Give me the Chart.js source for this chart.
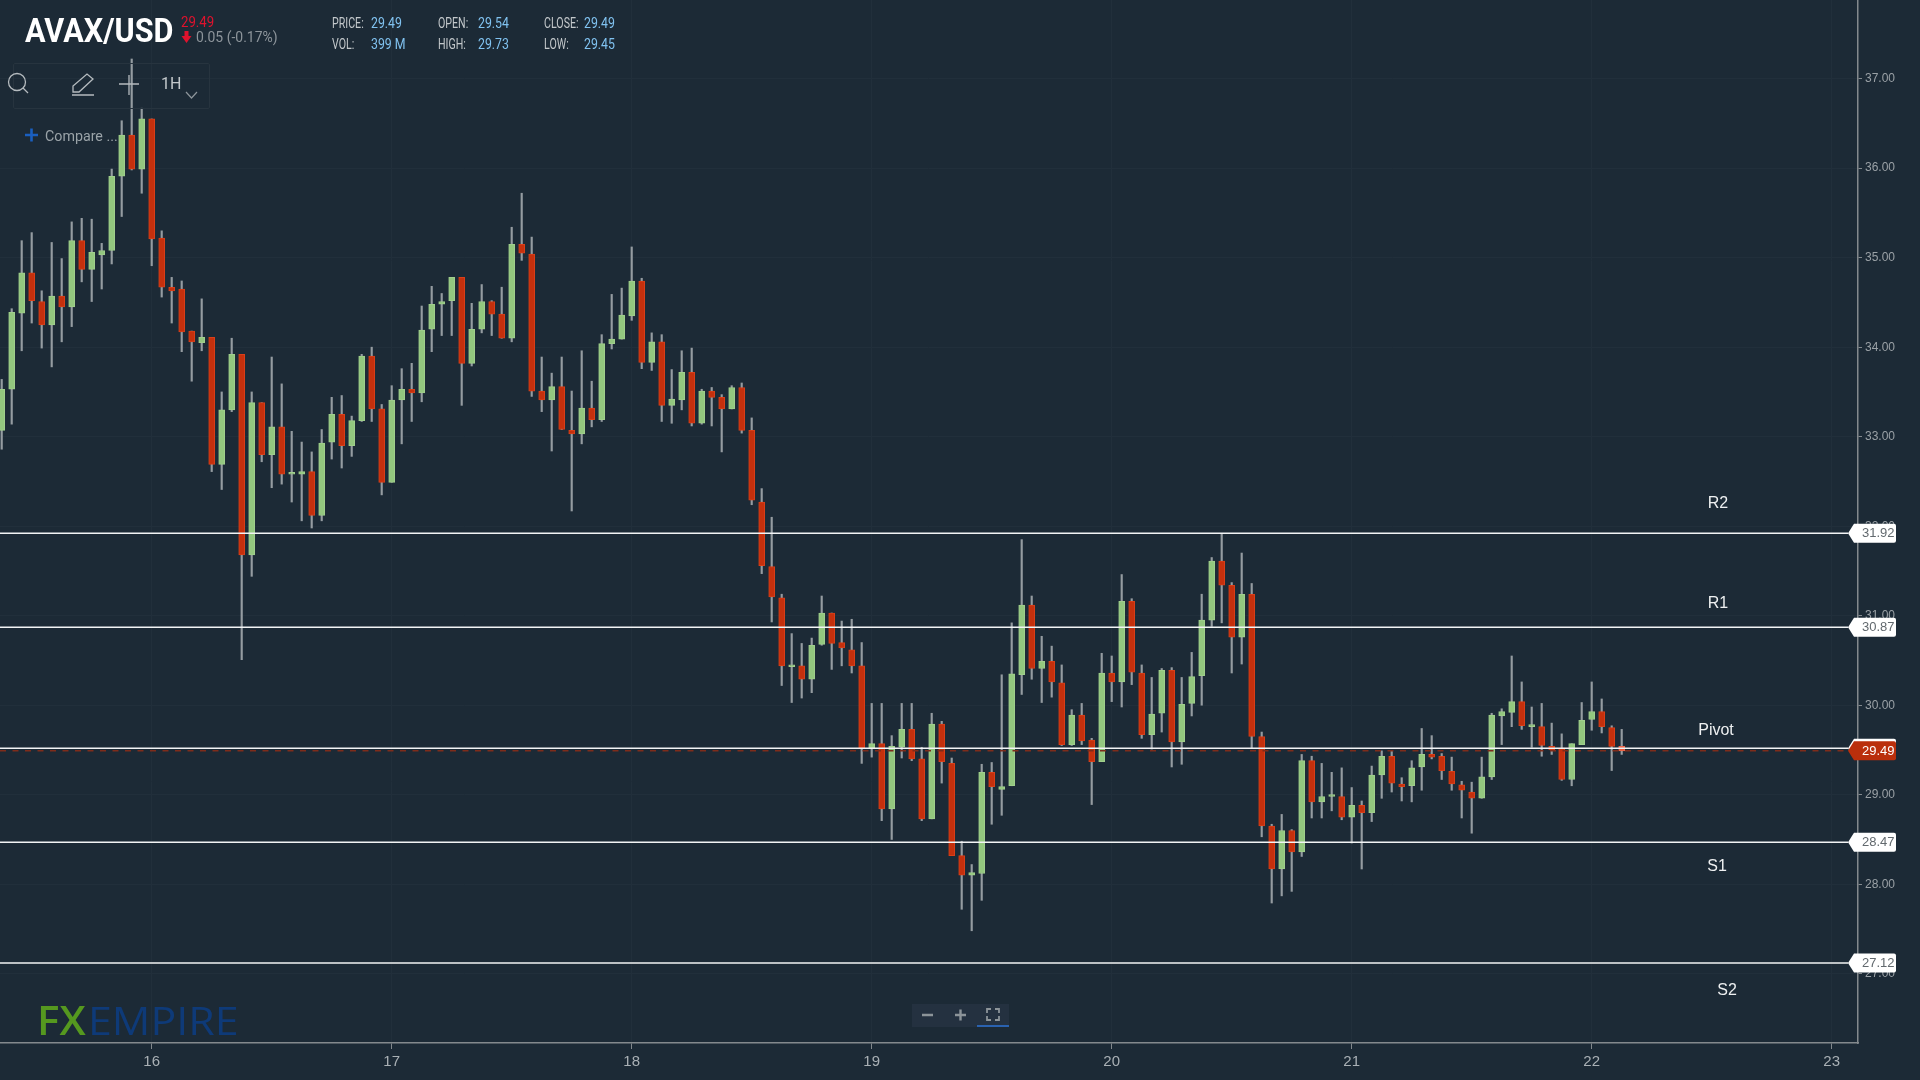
<!DOCTYPE html>
<html>
<head>
<meta charset="utf-8">
<title>AVAX/USD</title>
<script src="https://cdn.jsdelivr.net/npm/chart.js@4"></script>
<style>
  html, body { margin: 0; padding: 0; background: #1c2a36; width: 1920px; height: 1080px; overflow: hidden; }
  #lineChart { position: absolute; left: 0; top: 0; }
  .t { position: absolute; white-space: nowrap; transform-origin: left center; transform: scaleX(.88); font-family: Roboto, sans-serif; line-height: 16px; }
  .lab { font-size: 14px; color: #c3c8cb; transform: scaleX(.76); }
  .val { font-size: 14px; color: #80c2f0; }
  #toolbar { position: absolute; left: 13px; top: 63px; width: 195px; height: 44px; border: 1px solid #27343f; border-radius: 2px; }
  svg { position: absolute; left: 0; top: 0; }
</style>
</head>
<body>
<canvas id="lineChart" width="1920" height="1080"></canvas>

<!-- header -->
<div class="t" style="left:25px;top:12px;font-size:34px;line-height:36px;font-weight:700;color:#fff;transform:scaleX(.9);">AVAX/USD</div>
<div class="t" style="left:181px;top:14px;font-size:15px;color:#e0122d;">29.49</div>
<div class="t" style="left:196px;top:29px;font-size:15px;color:#8d959b;transform:scaleX(.93);">0.05 (-0.17%)</div>
<div class="t lab" style="left:332px;top:15px;">PRICE:</div><div class="t val" style="left:371px;top:15px;">29.49</div>
<div class="t lab" style="left:332px;top:36px;">VOL:</div><div class="t val" style="left:371px;top:36px;">399 M</div>
<div class="t lab" style="left:438px;top:15px;">OPEN:</div><div class="t val" style="left:478px;top:15px;">29.54</div>
<div class="t lab" style="left:438px;top:36px;">HIGH:</div><div class="t val" style="left:478px;top:36px;">29.73</div>
<div class="t lab" style="left:544px;top:15px;">CLOSE:</div><div class="t val" style="left:584px;top:15px;">29.49</div>
<div class="t lab" style="left:544px;top:36px;">LOW:</div><div class="t val" style="left:584px;top:36px;">29.45</div>

<!-- toolbar -->
<div id="toolbar"></div>
<div class="t" style="left:161px;top:76px;font-size:16px;color:#c3c8cb;transform:none;">1H</div>
<div class="t" style="left:45px;top:128px;font-size:15px;color:#9aa3a8;transform:scaleX(.95);">Compare ...</div>

<!-- logo -->
<div class="t" style="left:37px;top:1000px;font-family:'Open Sans';font-size:39px;line-height:40px;font-weight:600;color:#55981f;transform:scaleX(1.08);">FX</div>
<div class="t" style="left:88px;top:1000px;font-family:'Open Sans';font-size:39px;line-height:40px;color:#0e3a78;transform:scaleX(1.1);">EMPIRE</div>

<svg width="1920" height="1080" fill="none">
  <!-- down arrow -->
  <path d="M184.5 31h4v5h3l-5 7l-5-7h3z" fill="#e0122d"/>
  <!-- toolbar icons -->
  <circle cx="17" cy="82" r="8.5" stroke="#b5bbbf" stroke-width="1.3"/>
  <path d="M23 88l5 5" stroke="#b5bbbf" stroke-width="1.3"/>
  <path d="M73 92l0-6l14-12l6 5l-14 13zM72 95h22" stroke="#b5bbbf" stroke-width="1.3"/>
  <path d="M119 84h20M129 75v20" stroke="#b5bbbf" stroke-width="1.3"/>
  <path d="M186 92l5.5 6l5.5-6" stroke="#8d959b" stroke-width="1.2"/>
  <path d="M25 135h13M31.500 128.500v13" stroke="#1a5fc0" stroke-width="2.600"/>
  <!-- zoom buttons -->
  <rect x="912" y="1004" width="97" height="23" fill="#243140"/>
  <rect x="977" y="1025" width="32" height="2" fill="#2a62b0"/>
  <path d="M922 1015h11M955 1015h11M960.500 1009.500v11" stroke="#8c9499" stroke-width="2.400"/>
  <path d="M987 1013v-4h4M991 1020h-4v-4M995 1009h4v4M999 1016v4h-4" stroke="#8c9499" stroke-width="1.800"/>
</svg>

<script>
// hours counted from the 16th 00:00
let hours = [
  -15,-14,-13,-12,-11,-10,-9,-8,-7,-6,-5,-4,-3,-2,-1,0,1,2,3,4,
  5,6,7,8,9,10,11,12,13,14,15,16,17,18,19,20,21,22,23,24,
  25,26,27,28,29,30,31,32,33,34,35,36,37,38,39,40,41,42,43,44,
  45,46,47,48,49,50,51,52,53,54,55,56,57,58,59,60,61,62,63,64,
  65,66,67,68,69,70,71,72,73,74,75,76,77,78,79,80,81,82,83,84,
  85,86,87,88,89,90,91,92,93,94,95,96,97,98,99,100,101,102,103,104,
  105,106,107,108,109,110,111,112,113,114,115,116,117,118,119,120,121,122,123,124,
  125,126,127,128,129,130,131,132,133,134,135,136,137,138,139,140,141,142,143,144,
  145,146,147
];
let opens = [
  33.07,33.53,34.38,34.83,34.51,34.25,34.57,34.45,35.19,34.87,
  35.03,35.08,35.91,36.37,35.99,36.55,35.22,34.67,34.65,34.18,
  34.05,34.11,32.69,33.30,33.92,31.68,33.38,32.80,33.11,32.58,
  32.58,32.61,32.12,32.94,33.25,32.90,33.18,33.90,33.31,32.49,
  33.41,33.53,33.49,34.20,34.48,34.52,34.78,33.82,34.20,34.51,
  34.37,34.10,35.15,35.04,33.51,33.41,33.56,33.07,33.03,33.32,
  33.19,34.04,34.09,34.35,34.74,33.83,34.06,33.35,33.41,33.72,
  33.15,33.51,33.44,33.31,33.55,33.07,32.27,31.55,31.20,30.43,
  30.44,30.29,30.68,31.03,30.70,30.62,30.44,29.52,29.57,28.84,
  29.53,29.73,29.40,28.73,29.79,29.35,28.32,28.10,28.12,29.25,
  29.06,29.10,30.34,31.12,30.41,30.49,30.25,29.56,29.89,29.61,
  29.37,30.36,30.26,31.16,30.36,29.67,29.91,30.39,29.59,30.02,
  30.33,30.95,31.61,31.34,30.76,31.24,29.65,28.65,28.17,28.60,
  28.36,29.38,28.92,28.98,28.98,28.75,28.88,28.80,29.22,29.43,
  29.12,29.10,29.31,29.45,29.43,29.26,29.11,29.03,28.96,29.20,
  29.88,29.92,30.04,29.76,29.76,29.54,29.52,29.17,29.56,29.84,
  29.93,29.75,29.54
];
let highs = [
  33.64,34.43,35.19,35.28,34.63,35.17,34.99,35.40,35.44,35.43,
  35.16,35.99,36.53,37.22,36.67,36.55,35.30,34.78,34.74,34.18,
  34.54,34.11,33.50,34.10,33.92,33.50,33.38,33.89,33.59,33.06,
  32.94,32.83,33.08,33.44,33.46,33.23,33.92,34.00,33.36,33.57,
  33.76,33.82,34.46,34.68,34.60,34.78,34.78,34.49,34.70,34.52,
  34.67,35.34,35.72,35.23,33.89,33.71,33.89,33.51,33.96,33.62,
  34.14,34.59,34.66,35.12,34.77,34.16,34.14,33.75,33.96,33.99,
  33.53,33.55,33.47,33.57,33.60,33.21,32.42,32.10,31.24,30.80,
  30.69,30.75,31.22,31.03,30.94,30.96,30.70,30.02,30.02,29.66,
  30.02,30.02,29.53,29.91,29.82,29.41,28.48,28.22,29.34,29.36,
  30.34,30.92,31.85,31.22,30.77,30.66,30.45,29.95,30.02,29.63,
  30.58,30.55,31.46,31.19,30.45,30.31,30.41,30.42,30.31,30.59,
  31.24,31.65,31.91,31.37,31.70,31.36,29.70,28.67,28.78,28.61,
  29.45,29.43,29.35,29.25,29.30,29.08,28.93,29.32,29.49,29.49,
  29.19,29.38,29.74,29.66,29.46,29.42,29.15,29.14,29.42,29.91,
  29.96,30.55,30.26,29.98,30.02,29.80,29.68,29.57,30.03,30.26,
  30.07,29.77,29.73
];
let lows = [
  32.86,33.14,33.96,34.27,33.99,33.78,34.06,34.23,34.73,34.51,
  34.65,34.93,35.46,35.98,35.72,34.91,34.56,34.27,33.95,33.62,
  33.96,32.61,32.41,33.28,30.51,31.44,32.72,32.43,32.47,32.27,
  32.06,31.98,32.06,32.75,32.65,32.78,33.17,33.17,32.35,32.49,
  32.92,33.17,33.39,33.95,34.13,34.13,33.35,33.79,34.16,34.13,
  34.10,34.06,34.97,33.45,33.28,32.84,33.08,32.17,32.92,33.11,
  33.17,33.98,34.09,34.30,33.76,33.74,33.17,33.15,33.30,33.12,
  33.14,33.12,32.83,33.31,33.04,32.24,31.47,30.93,30.22,30.03,
  30.08,30.14,30.67,30.40,30.44,30.36,29.35,29.42,28.71,28.50,
  29.41,29.38,28.71,28.73,29.13,28.32,27.72,27.48,27.82,28.67,
  28.77,29.10,30.12,30.29,30.03,30.09,29.55,29.55,29.56,28.89,
  29.37,30.04,29.98,30.23,29.63,29.51,29.70,29.31,29.34,29.88,
  30.00,30.88,30.92,30.36,30.46,29.52,28.53,27.79,27.87,27.92,
  28.31,28.74,28.74,28.82,28.72,28.46,28.17,28.70,28.96,29.03,
  28.93,28.92,29.05,29.40,29.17,29.05,28.74,28.57,28.96,29.17,
  29.56,29.76,29.73,29.53,29.43,29.45,29.16,29.10,29.56,29.72,
  29.69,29.27,29.45
];
let closes = [
  33.53,34.39,34.83,34.52,34.25,34.57,34.45,35.19,34.87,35.06,
  35.08,35.91,36.37,35.99,36.55,35.21,34.67,34.63,34.17,34.06,
  34.11,32.69,33.30,33.92,31.68,33.38,32.80,33.11,32.58,32.59,
  32.61,32.12,32.93,33.25,32.90,33.18,33.90,33.31,32.49,33.41,
  33.53,33.49,34.19,34.48,34.51,34.78,33.82,34.20,34.51,34.37,
  34.10,35.15,35.05,33.51,33.41,33.56,33.08,33.03,33.32,33.19,
  34.04,34.09,34.36,34.74,33.83,34.06,33.35,33.42,33.72,33.15,
  33.51,33.44,33.31,33.55,33.07,32.29,31.56,31.21,30.44,30.44,
  30.29,30.67,31.03,30.69,30.64,30.44,29.52,29.57,28.84,29.54,
  29.73,29.40,28.73,29.79,29.37,28.32,28.10,28.13,29.25,29.09,
  29.09,30.35,31.12,30.41,30.49,30.26,29.56,29.89,29.60,29.37,
  30.36,30.26,31.16,30.37,29.67,29.90,30.39,29.59,30.01,30.32,
  30.95,31.61,31.34,30.76,31.24,29.65,28.65,28.17,28.60,28.36,
  29.38,28.92,28.98,28.99,28.75,28.88,28.80,29.22,29.43,29.13,
  29.09,29.30,29.45,29.42,29.27,29.12,29.05,28.96,29.20,29.89,
  29.93,30.04,29.77,29.76,29.55,29.50,29.17,29.57,29.83,29.93,
  29.76,29.54,29.49
];

// axis ticks
let xTickHours = [0, 24, 48, 72, 96, 120, 144, 168];
let xTickLabels = ['16', '17', '18', '19', '20', '21', '22', '23'];
let yTickValues = [27, 28, 29, 30, 31, 32, 33, 34, 35, 36, 37];

// pivot levels
let levelNames = ['R2', 'R1', 'Pivot', 'S1', 'S2'];
let levelValues = [31.92, 30.87, 29.52, 28.47, 27.12];
let levelTags = ['31.92', '30.87', '', '28.47', '27.12'];
let levelNameX = [1718, 1718, 1716, 1717, 1727];
let levelNameY = [504, 604, 731, 867, 991];
let lastPrice = 29.49;

// visible range of the axes
let xMin = -15.17;
let xMax = 170.63;
let xLineEnd = 169.63;
let yMin = 26.226;
let yMax = 37.879;

let gridColor = '#212f3b';
let axisColor = '#83898d';

let bodyColors = closes.map((c, i) => c >= opens[i] ? '#93c77f' : '#c4300d');
let bodyBorders = closes.map((c, i) => c >= opens[i] ? '#a0cf8c' : '#d93f18');
bodyColors[bodyColors.length - 1] = '#e8583a';
bodyBorders[bodyBorders.length - 1] = '#f0674a';

let lineDatasets = levelValues.map(v => ({
  type: 'line',
  data: [{ x: xMin, y: v }, { x: xLineEnd, y: v }],
  borderColor: '#f2f4f5',
  borderWidth: 1.5,
  pointRadius: 0,
  order: 1
}));

// price tags on the right and the R/S names
let tagsPlugin = {
  id: 'tags',
  afterDraw(chart) {
    let ctx = chart.ctx;
    let yScale = chart.scales.y;

    function drawTag(value, fill) {
      let y = yScale.getPixelForValue(value);
      ctx.fillStyle = fill;
      ctx.beginPath();
      ctx.moveTo(1848, y);
      ctx.lineTo(1854, y - 9.5);
      ctx.lineTo(1894, y - 9.5);
      ctx.quadraticCurveTo(1896, y - 9.5, 1896, y - 7.5);
      ctx.lineTo(1896, y + 7.5);
      ctx.quadraticCurveTo(1896, y + 9.5, 1894, y + 9.5);
      ctx.lineTo(1854, y + 9.5);
      ctx.closePath();
      ctx.fill();
    }

    ctx.save();
    ctx.textBaseline = 'middle';
    levelValues.forEach((v, i) => {
      drawTag(v, '#ffffff');
      if (levelTags[i]) {
        ctx.font = '13px "Liberation Sans"';
        ctx.textAlign = 'left';
        ctx.fillStyle = '#62696e';
        ctx.fillText(levelTags[i], 1862, yScale.getPixelForValue(v) + 0.5);
      }
      ctx.font = '16px "Liberation Sans"';
      ctx.textAlign = 'center';
      ctx.fillStyle = '#eef0f1';
      ctx.fillText(levelNames[i], levelNameX[i], levelNameY[i]);
    });
    drawTag(lastPrice, '#ba2f0c');
    ctx.font = '13px "Liberation Sans"';
    ctx.textAlign = 'left';
    ctx.fillStyle = '#ffffff';
    ctx.fillText(lastPrice.toFixed(2), 1862, yScale.getPixelForValue(lastPrice) + 0.5);
    ctx.restore();
  }
};

function noPadding(axis) {
  axis.paddingTop = 0;
  axis.paddingBottom = 0;
  axis.paddingLeft = 0;
  axis.paddingRight = 0;
}

let lineCtx = document.getElementById('lineChart');
let lineChart = new Chart(lineCtx, {
  data: {
    datasets: [
      ...lineDatasets,
      {
        // last price
        type: 'line',
        data: [{ x: xMin, y: lastPrice }, { x: xLineEnd, y: lastPrice }],
        borderColor: '#7e2c1b',
        borderWidth: 1.5,
        borderDash: [6, 6.5],
        pointRadius: 0,
        order: 0
      },
      {
        // bodies
        type: 'bar',
        data: hours.map((h, i) => ({ x: h, y: [opens[i], closes[i]] })),
        backgroundColor: bodyColors,
        borderColor: bodyBorders,
        borderWidth: 1,
        borderSkipped: false,
        barThickness: 6,
        minBarLength: 2,
        grouped: false,
        order: 2
      },
      {
        // wicks
        type: 'bar',
        data: hours.map((h, i) => ({ x: h, y: [lows[i], highs[i]] })),
        backgroundColor: '#959ca1',
        barThickness: 1.5,
        grouped: false,
        order: 3
      }
    ]
  },
  options: {
    responsive: false,
    animation: false,
    devicePixelRatio: 1,
    layout: { padding: 0 },
    plugins: {
      legend: { display: false },
      title: { display: false },
      tooltip: { enabled: false }
    },
    scales: {
      x: {
        type: 'linear',
        position: 'bottom',
        offset: false,
        min: xMin,
        max: xMax,
        afterBuildTicks(axis) { axis.ticks = xTickHours.map(v => ({ value: v })); },
        afterFit(axis) { axis.height = 37; noPadding(axis); },
        grid: { offset: false, color: gridColor, tickColor: axisColor, tickLength: 6, lineWidth: 1 },
        border: { color: axisColor, width: 1.5 },
        ticks: {
          autoSkip: false,
          maxRotation: 0,
          padding: 4,
          color: '#a9b0b5',
          font: { family: 'Liberation Sans', size: 15 },
          callback: (v, i) => xTickLabels[i]
        }
      },
      y: {
        type: 'linear',
        position: 'right',
        min: yMin,
        max: yMax,
        afterBuildTicks(axis) { axis.ticks = yTickValues.map(v => ({ value: v })); },
        afterFit(axis) { axis.width = 62; noPadding(axis); },
        grid: { color: gridColor, tickColor: axisColor, tickLength: 4, lineWidth: 1 },
        border: { color: axisColor, width: 1.5 },
        ticks: {
          autoSkip: false,
          padding: 3,
          color: '#9aa1a6',
          font: { family: 'Liberation Sans', size: 12 },
          callback: v => v.toFixed(2)
        }
      }
    }
  },
  plugins: [tagsPlugin]
});
</script>
</body>
</html>
